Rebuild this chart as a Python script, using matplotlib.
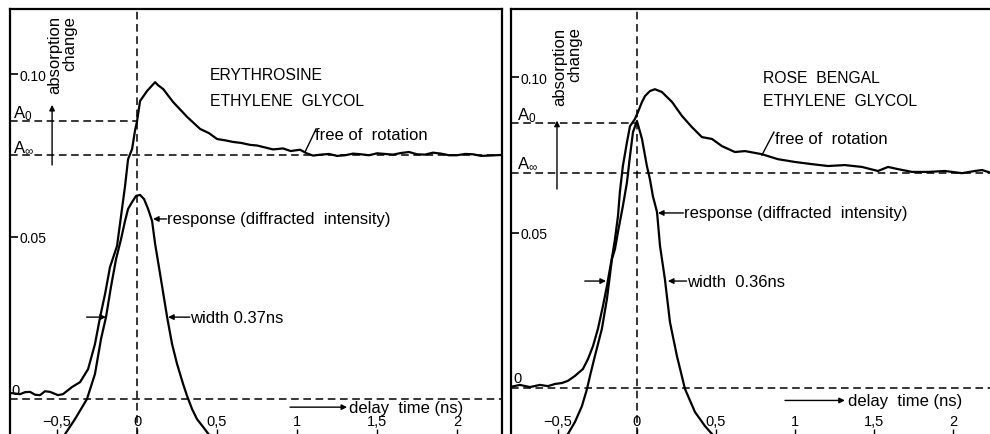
import matplotlib
matplotlib.use('Agg')
import matplotlib.pyplot as plt

plt.rcParams['font.family'] = ['Liberation Sans', 'DejaVu Sans']
plt.rcParams['mathtext.fontset'] = 'custom'
plt.rcParams['mathtext.rm'] = 'Liberation Sans'
plt.rcParams['mathtext.it'] = 'Liberation Sans:italic'

# ---------------- data ----------------
x_ticks = [-0.5, 0, 0.5, 1, 1.5, 2]
x_ticklabels = ["\u22120,5", "0", "0,5", "1", "1,5", "2"]
y_ticks = [0.05, 0.10]
y_ticklabels = ["0.05", "0.10"]

# Erythrosine in ethylene glycol
ery_t = [-0.781, -0.731, -0.700, -0.669, -0.636, -0.606, -0.575, -0.544, -0.494,
         -0.463, -0.406, -0.356, -0.306, -0.263, -0.231, -0.200, -0.169, -0.125,
         -0.094, -0.075, -0.056, -0.031, -0.013, 0.0, 0.019, 0.063, 0.113, 0.13,
         0.163, 0.225, 0.313, 0.394, 0.45, 0.50, 0.55, 0.60, 0.65, 0.706, 0.75,
         0.80, 0.85, 0.913, 0.96, 1.019, 1.06, 1.10, 1.15, 1.20, 1.25, 1.30,
         1.35, 1.40, 1.45, 1.50, 1.55, 1.60, 1.65, 1.70, 1.75, 1.80, 1.85, 1.90,
         1.95, 2.00, 2.05, 2.10, 2.15, 2.20, 2.28]
ery_a = [0.0018, 0.0015, 0.0021, 0.0022, 0.0013, 0.0012, 0.0024, 0.0022, 0.0012,
         0.0015, 0.0037, 0.0052, 0.0092, 0.0169, 0.0252, 0.0323, 0.0406, 0.0471,
         0.0585, 0.0655, 0.0738, 0.0769, 0.0825, 0.0855, 0.0917, 0.0948, 0.0975,
         0.0966, 0.0954, 0.0914, 0.0868, 0.0831, 0.0818, 0.0800, 0.0796, 0.0791,
         0.0788, 0.0782, 0.0780, 0.0774, 0.0768, 0.0771, 0.0763, 0.0767, 0.0756,
         0.0749, 0.0752, 0.0754, 0.0748, 0.0750, 0.0755, 0.0753, 0.0750, 0.0756,
         0.0754, 0.0752, 0.0757, 0.0760, 0.0753, 0.0752, 0.0758, 0.0755, 0.0750,
         0.0750, 0.0754, 0.0753, 0.0748, 0.0749, 0.0751]

# Response (diffracted intensity), left panel
resp1_t = [-0.450, -0.388, -0.313, -0.263, -0.225, -0.194, -0.163, -0.131, -0.100,
           -0.075, -0.056, -0.031, -0.006, 0.019, 0.044, 0.069, 0.094, 0.113,
           0.144, 0.188, 0.219, 0.250, 0.288, 0.313, 0.344, 0.375, 0.413, 0.456]
resp1_a = [-0.0108, -0.0062, 0.0000, 0.0077, 0.0185, 0.0252, 0.0345, 0.0431, 0.0492,
           0.0548, 0.0585, 0.0606, 0.0625, 0.0628, 0.0615, 0.0585, 0.0548, 0.0477,
           0.0385, 0.0252, 0.0169, 0.0108, 0.0046, 0.0009, -0.0031, -0.0062, -0.0086,
           -0.0114]

# Rose Bengal in ethylene glycol
rb_t = [-0.804, -0.741, -0.677, -0.614, -0.563, -0.519, -0.475, -0.437, -0.392,
        -0.342, -0.310, -0.278, -0.247, -0.215, -0.190, -0.171, -0.152, -0.139,
        -0.120, -0.108, -0.089, -0.063, -0.044, -0.013, 0.006, 0.032, 0.051,
        0.082, 0.114, 0.158, 0.222, 0.285, 0.348, 0.411, 0.475, 0.538, 0.620,
        0.684, 0.791, 0.892, 1.000, 1.108, 1.209, 1.316, 1.424, 1.525, 1.589,
        1.652, 1.741, 1.842, 1.949, 2.057, 2.139, 2.184, 2.247]
rb_a = [0.0003, 0.0010, 0.0003, 0.0010, 0.0006, 0.0013, 0.0016, 0.0023, 0.0039,
        0.0061, 0.0093, 0.0135, 0.0190, 0.0264, 0.0328, 0.0383, 0.0437, 0.0479,
        0.0553, 0.0630, 0.0714, 0.0791, 0.0842, 0.0865, 0.0887, 0.0920, 0.0939,
        0.0955, 0.0961, 0.0952, 0.0920, 0.0875, 0.0839, 0.0807, 0.0801, 0.0778,
        0.0759, 0.0762, 0.0752, 0.0736, 0.0727, 0.0720, 0.0714, 0.0717, 0.0711,
        0.0698, 0.0711, 0.0704, 0.0695, 0.0695, 0.0698, 0.0691, 0.0698, 0.0701,
        0.0691]

# Response (diffracted intensity), right panel
resp2_t = [-0.437, -0.392, -0.348, -0.316, -0.297, -0.266, -0.222, -0.190, -0.158,
           -0.139, -0.120, -0.089, -0.063, -0.044, -0.025, 0.0, 0.032, 0.063,
           0.082, 0.101, 0.127, 0.146, 0.177, 0.209, 0.253, 0.304, 0.367, 0.430,
           0.475]
resp2_a = [-0.0148, -0.0109, -0.0058, -0.0003, 0.0039, 0.0103, 0.0190, 0.0286, 0.0415,
           0.0447, 0.0502, 0.0585, 0.0662, 0.0746, 0.0823, 0.0859, 0.0801, 0.0714,
           0.0672, 0.0617, 0.0566, 0.0457, 0.0350, 0.0212, 0.0103, -0.0003, -0.0077,
           -0.0122, -0.0148]

A0_left, Ainf_left = 0.0855, 0.0751
A0_right, Ainf_right = 0.0852, 0.0691

# ---------------- figure ----------------
W, H = 990, 435
fig = plt.figure(figsize=(W / 100, H / 100), dpi=100)
ax1 = fig.add_axes([10 / W, -5 / H, 492 / W, 430 / H])
ax2 = fig.add_axes([511 / W, -5 / H, 481 / W, 430 / H])

ax1.set_xlim(-0.794, 2.281)
ax1.set_ylim(-0.0123, 0.120)
ax2.set_xlim(-0.797, 2.247)
ax2.set_ylim(-0.0164, 0.1219)

dash = (0, (5, 3))
ref_kw = dict(color='black', lw=1.1, linestyle=dash)
curve_kw = dict(color='black', lw=1.6)
arrow_kw = dict(arrowstyle='-|>', color='black', lw=1.0, mutation_scale=8,
                shrinkA=0, shrinkB=0)


def style_axes(ax, right_visible):
    for side in ['top', 'left']:
        ax.spines[side].set_linewidth(1.6)
    ax.spines['bottom'].set_visible(False)
    ax.spines['right'].set_visible(right_visible)
    ax.spines['right'].set_linewidth(1.6)
    ax.set_xticks(x_ticks)
    ax.set_xticklabels(x_ticklabels)
    ax.set_yticks(y_ticks)
    ax.set_yticklabels(y_ticklabels)
    ax.tick_params(axis='x', direction='in', length=7, width=1.0, pad=-18,
                   labelsize=10.5)
    ax.tick_params(axis='y', direction='in', length=6, width=1.2, pad=-7,
                   labelsize=10)
    for lab in ax.get_yticklabels():
        lab.set_horizontalalignment('left')
    ax.set_facecolor('white')


def draw_panel(ax, t, a, rt, ra, A0, Ainf, xmin):
    ax.axvline(0, **ref_kw)
    ax.axhline(0, **ref_kw)
    ax.axhline(Ainf, **ref_kw)
    ax.plot([xmin, 0], [A0, A0], **ref_kw)
    ax.plot(t, a, **curve_kw)
    ax.plot(rt, ra, **curve_kw)


style_axes(ax1, True)
style_axes(ax2, False)
draw_panel(ax1, ery_t, ery_a, resp1_t, resp1_a, A0_left, Ainf_left, -0.794)
draw_panel(ax2, rb_t, rb_a, resp2_t, resp2_a, A0_right, Ainf_right, -0.797)

fc = 11.3   # capitals
fl = 12.0   # lower-case labels
fy = 12.0   # axis label

# ---- left panel annotations ----
ax1.text(0.456, 0.1000, "ERYTHROSINE", fontsize=fc, va='center', ha='left')
ax1.text(0.456, 0.0917, "ETHYLENE  GLYCOL", fontsize=fc, va='center', ha='left')
ax1.text(1.115, 0.0815, "free of  rotation", fontsize=fl, va='center', ha='left')
ax1.plot([1.05, 1.119], [0.0760, 0.0831], color='black', lw=1.0)
ax1.annotate('', xy=(0.100, 0.0554), xytext=(0.185, 0.0554), arrowprops=arrow_kw)
ax1.text(0.187, 0.0554, "response (diffracted  intensity)", fontsize=fl,
         va='center', ha='left')
ax1.annotate('', xy=(0.194, 0.0252), xytext=(0.330, 0.0252), arrowprops=arrow_kw)
ax1.annotate('', xy=(-0.194, 0.0252), xytext=(-0.315, 0.0252), arrowprops=arrow_kw)
ax1.text(0.332, 0.0252, "width 0.37ns", fontsize=fl, va='center', ha='left')
ax1.annotate('', xy=(1.313, -0.0025), xytext=(0.956, -0.0025), arrowprops=arrow_kw)
ax1.text(1.325, -0.0025, "delay  time (ns)", fontsize=fl, va='center', ha='left')
ax1.text(-0.465, 0.1182, "absorption\nchange", rotation=90, fontsize=fy,
         va='top', ha='center', multialignment='right', linespacing=1.0)
ax1.annotate('', xy=(-0.531, 0.0905), xytext=(-0.531, 0.0720), arrowprops=arrow_kw)
ax1.text(-0.775, 0.0880, r"A$_0$", fontsize=fl, va='center', ha='left')
ax1.text(-0.775, 0.0775, r"A$_\infty$", fontsize=fl, va='center', ha='left')
ax1.text(-0.785, 0.0028, "0", fontsize=10.5, va='center', ha='left')

# ---- right panel annotations ----
ax2.text(0.797, 0.1000, "ROSE  BENGAL", fontsize=fc, va='center', ha='left')
ax2.text(0.797, 0.0926, "ETHYLENE  GLYCOL", fontsize=fc, va='center', ha='left')
ax2.text(0.873, 0.0803, "free of  rotation", fontsize=fl, va='center', ha='left')
ax2.plot([0.791, 0.867], [0.0749, 0.0823], color='black', lw=1.0)
ax2.annotate('', xy=(0.133, 0.0563), xytext=(0.295, 0.0563), arrowprops=arrow_kw)
ax2.text(0.297, 0.0563, "response (diffracted  intensity)", fontsize=fl,
         va='center', ha='left')
ax2.annotate('', xy=(0.196, 0.0344), xytext=(0.314, 0.0344), arrowprops=arrow_kw)
ax2.annotate('', xy=(-0.196, 0.0344), xytext=(-0.330, 0.0344), arrowprops=arrow_kw)
ax2.text(0.316, 0.0344, "width  0.36ns", fontsize=fl, va='center', ha='left')
ax2.annotate('', xy=(1.316, -0.0040), xytext=(0.937, -0.0040), arrowprops=arrow_kw)
ax2.text(1.335, -0.0040, "delay  time (ns)", fontsize=fl, va='center', ha='left')
ax2.text(-0.440, 0.1163, "absorption\nchange", rotation=90, fontsize=fy,
         va='top', ha='center', multialignment='right', linespacing=1.0)
ax2.annotate('', xy=(-0.506, 0.0860), xytext=(-0.506, 0.0640), arrowprops=arrow_kw)
ax2.text(-0.759, 0.0880, r"A$_0$", fontsize=fl, va='center', ha='left')
ax2.text(-0.759, 0.0725, r"A$_\infty$", fontsize=fl, va='center', ha='left')
ax2.text(-0.785, 0.0032, "0", fontsize=10.5, va='center', ha='left')

fig.savefig('out.png', dpi=100, facecolor='white')
